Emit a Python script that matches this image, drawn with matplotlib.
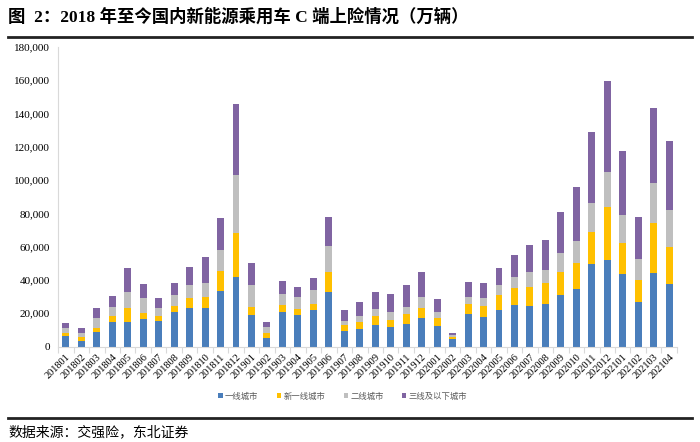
import matplotlib.pyplot as plt
import numpy as np
from matplotlib.ticker import FuncFormatter, FixedLocator

plt.rcParams['font.family'] = ['Noto Sans CJK SC', 'DejaVu Sans']

months = ['201801', '201802', '201803', '201804', '201805', '201806', '201807', '201808',
          '201809', '201810', '201811', '201812', '201901', '201902', '201903', '201904',
          '201905', '201906', '201907', '201908', '201909', '201910', '201911', '201912',
          '202001', '202002', '202003', '202004', '202005', '202006', '202007', '202008',
          '202009', '202010', '202011', '202012', '202101', '202102', '202103', '202104']

tier1 = [6500, 3300, 8500, 15000, 14600, 16600, 15600, 21000, 23400, 23400, 33500, 41500,
         19000, 5300, 20800, 18800, 21800, 32700, 9500, 10600, 13000, 11800, 13400, 17000,
         12400, 4500, 19800, 17800, 21800, 25000, 24400, 25800, 30700, 34300, 49400, 52000,
         43800, 26500, 44000, 37700]
new_tier1 = [1900, 2200, 2500, 3600, 8400, 3800, 2800, 3600, 5600, 6500, 11700, 26400,
             5000, 2600, 4000, 3800, 4000, 12200, 3500, 4000, 5600, 4400, 6000, 6400,
             4600, 1400, 6000, 6800, 8900, 10100, 11300, 12100, 14200, 15900, 19500, 31800,
             18300, 13500, 30000, 21800]
tier2 = [2600, 2500, 6400, 5400, 9700, 8700, 4600, 6100, 8100, 8200, 13000, 35200,
         12700, 3700, 6700, 7100, 8100, 15300, 2600, 4000, 4000, 4800, 4600, 6300,
         3800, 1000, 3900, 4500, 6000, 6400, 8900, 7900, 11300, 13300, 17100, 21300,
         16700, 12600, 24100, 22500]
tier3 = [3000, 3000, 5600, 6500, 14500, 8400, 6000, 7600, 10700, 15500, 18800, 42500,
         13500, 3200, 7800, 6200, 7200, 17600, 6400, 8100, 10100, 10700, 12700, 15100,
         7900, 1000, 8800, 9000, 10500, 13700, 16500, 17900, 24800, 32200, 43100, 54300,
         38400, 25200, 45000, 41200]

series = [('一线城市', tier1, '#4A7EBB'),
          ('新一线城市', new_tier1, '#FFC000'),
          ('二线城市', tier2, '#BFBFBF'),
          ('三线及以下城市', tier3, '#8064A2')]

fig = plt.figure(figsize=(7, 4.42), dpi=100)
ax = fig.add_axes([0.083, 0.216, 0.884, 0.678])

x = np.arange(len(months))
bottom = np.zeros(len(months))
for name, vals, col in series:
    ax.bar(x, vals, width=0.45, bottom=bottom, color=col, label=name, zorder=2)
    bottom += np.array(vals)

ax.set_xlim(-0.5, len(months) - 0.5)
ax.set_ylim(0, 180000)
ax.set_yticks(np.arange(0, 180001, 20000))
ax.yaxis.set_major_formatter(FuncFormatter(lambda v, p: f'{int(v):,}'))
ax.tick_params(axis='y', length=0, labelsize=8, pad=6)
for lab in ax.get_yticklabels():
    lab.set_fontfamily('Liberation Serif')

ax.set_xticks(x)
ax.set_xticklabels(months, rotation=45, ha='right', va='top', rotation_mode='anchor',
                   fontsize=7.5, fontfamily='Liberation Serif')
ax.tick_params(axis='x', which='major', length=0, pad=4)
ax.xaxis.set_minor_locator(FixedLocator(np.arange(-0.5, len(months), 1)))
ax.tick_params(axis='x', which='minor', length=4, color='#D9D9D9', width=0.8)

for s in ['top', 'right']:
    ax.spines[s].set_visible(False)
ax.spines['left'].set_color('#D9D9D9')
ax.spines['bottom'].set_color('#D9D9D9')

leg = fig.legend(loc='center', bbox_to_anchor=(0.49, 0.104), ncol=4, frameon=False,
                 fontsize=6, handlelength=0.5, handleheight=0.5, columnspacing=2.2,
                 handletextpad=0.3)
for t in leg.get_texts():
    t.set_color('#595959')

fig.text(0.012, 0.962, '图  2：2018 年至今国内新能源乘用车 C 端上险情况（万辆）',
         fontsize=12.5, fontweight='bold', va='center', ha='left',
         family=['Liberation Serif', 'Noto Sans CJK SC'])
fig.add_artist(plt.Line2D([0.012, 0.988], [0.916, 0.916], color='#222222', lw=2))
fig.add_artist(plt.Line2D([0.012, 0.988], [0.054, 0.054], color='#222222', lw=2))
fig.text(0.012, 0.022, '数据来源：交强险，东北证券', fontsize=10, va='center', ha='left')

fig.savefig('out.png', dpi=100)
